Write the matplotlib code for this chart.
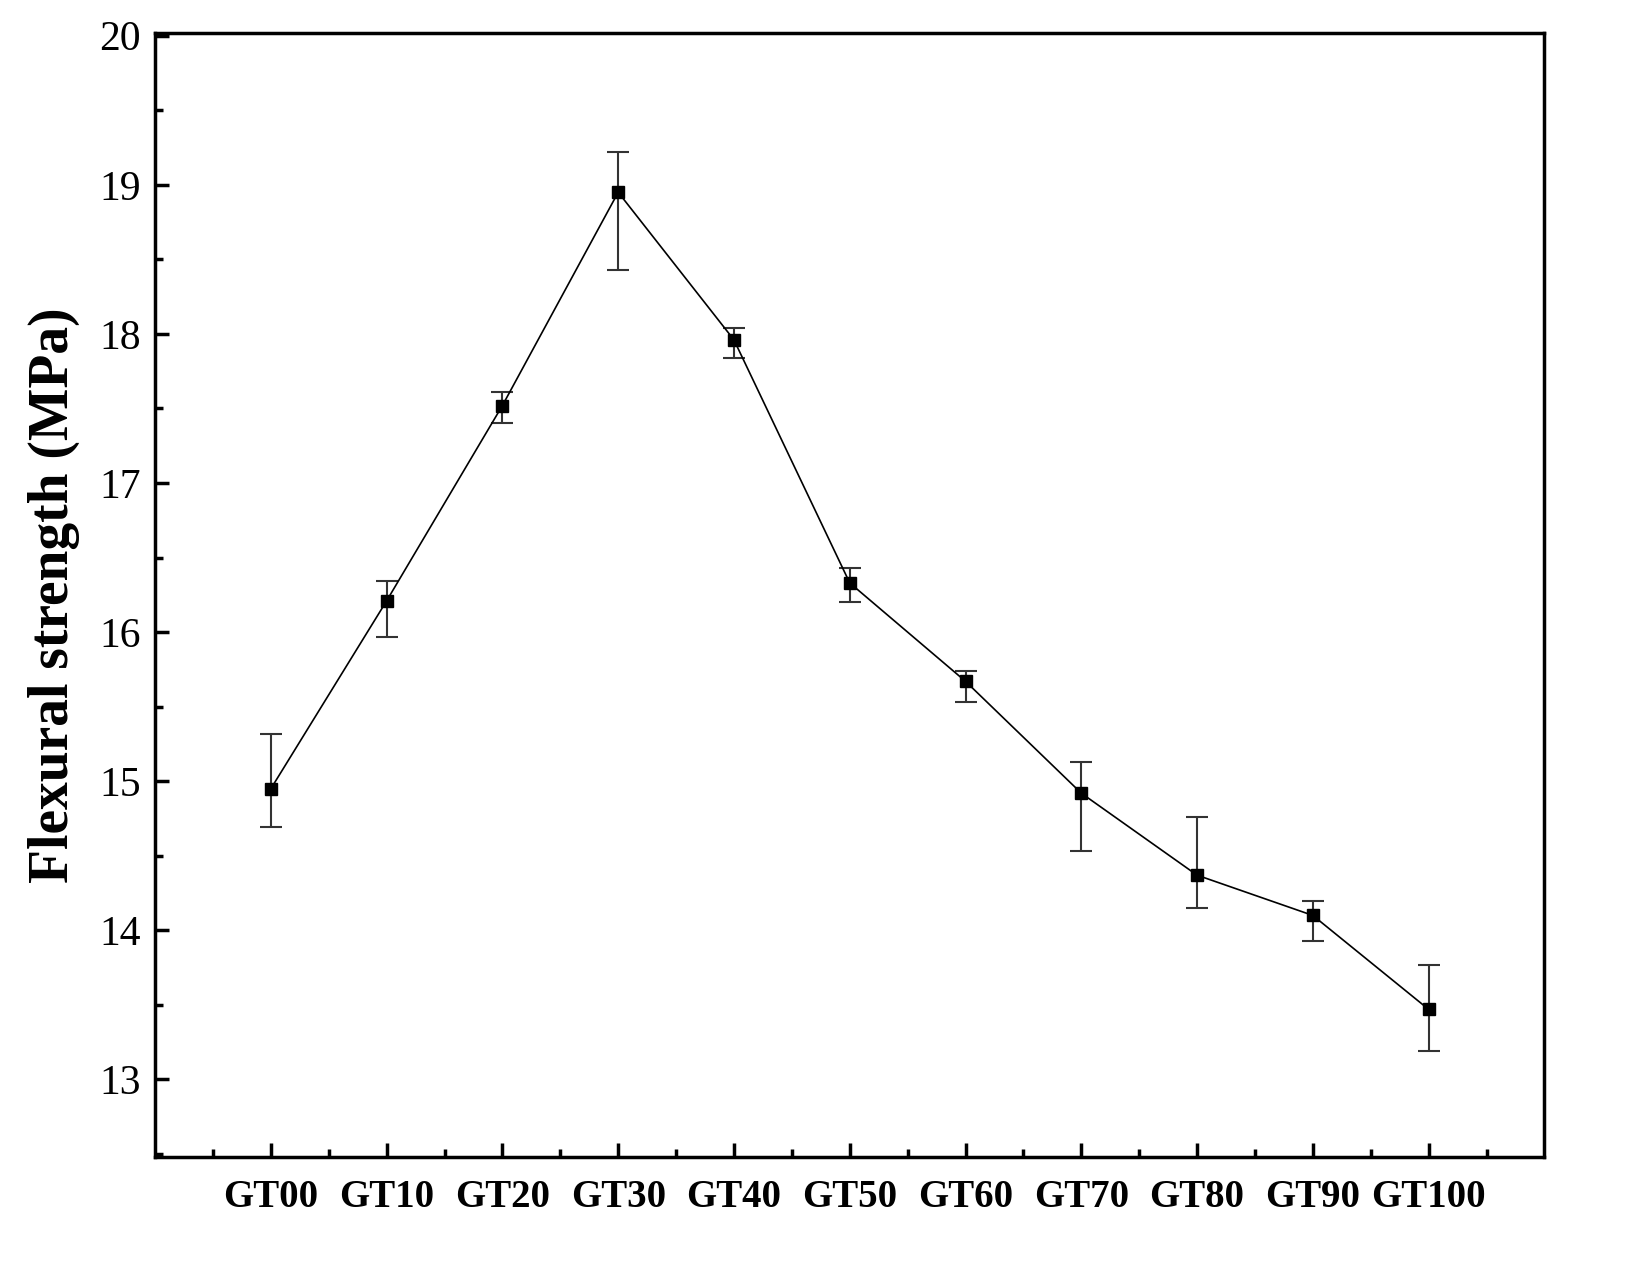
import matplotlib
matplotlib.use("Agg")
import matplotlib.pyplot as plt
import numpy as np

labels = ["GT00","GT10","GT20","GT30","GT40","GT50","GT60","GT70","GT80","GT90","GT100"]
values = [14.95, 16.21, 17.52, 18.95, 17.96, 16.33, 15.67, 14.92, 14.37, 14.10, 13.47]
err_up = [15.32, 16.34, 17.61, 19.22, 18.04, 16.43, 15.74, 15.13, 14.76, 14.20, 13.77]
err_lo = [14.69, 15.97, 17.40, 18.43, 17.84, 16.20, 15.53, 14.53, 14.15, 13.93, 13.19]

plt.rcParams['font.family'] = ['Liberation Serif', 'DejaVu Serif']
fig = plt.figure(figsize=(16.5, 12.79), dpi=100)
ax = fig.add_axes([0.094, 0.0954, 0.842, 0.879])
x = np.arange(len(labels))
v = np.array(values)
yerr = [v - np.array(err_lo), np.array(err_up) - v]
ax.errorbar(x, v, yerr=yerr, fmt='s-', color='black', ms=9, lw=1.2,
            ecolor='#333333', elinewidth=1.5, capsize=8, capthick=1.5)
ax.set_xlim(-1, 11)
ax.set_ylim(12.48, 20.02)
ax.set_xticks(x)
ax.set_xticklabels(labels, fontsize=28, fontweight='bold')
ax.set_xticks(np.arange(-0.5, 11, 1), minor=True)
ax.set_yticks(range(13, 21))
ax.set_yticks(np.arange(12.5, 20, 1), minor=True)
ax.tick_params(axis='both', which='major', direction='in', length=10, width=2.5, labelsize=30)
ax.tick_params(axis='x', which='major', labelsize=28)
ax.tick_params(axis='both', which='minor', direction='in', length=6, width=2.5)
ax.tick_params(axis='x', pad=16)
ax.tick_params(axis='y', pad=10)
for s in ax.spines.values():
    s.set_linewidth(2.5)
ax.set_ylabel("Flexural strength (MPa)", fontsize=40, fontweight='bold', labelpad=14)
fig.savefig("out.png", dpi=100)
